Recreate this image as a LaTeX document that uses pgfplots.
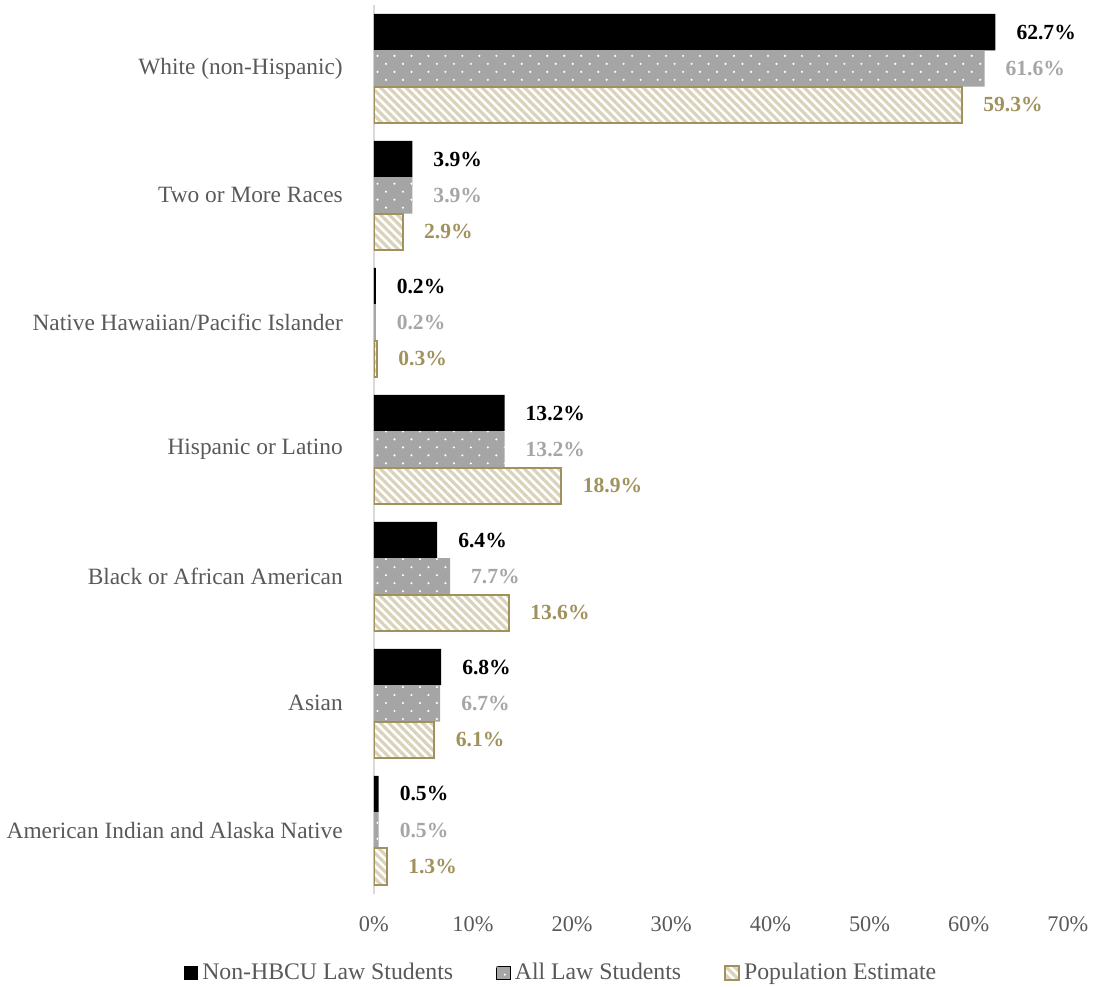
\documentclass[border=0pt]{standalone}
\usepackage{pgfplots}
\pgfplotsset{compat=1.18}
\usepackage{fontspec}
\setmainfont{Liberation Serif}
\usetikzlibrary{patterns,patterns.meta}
\definecolor{tickgray}{HTML}{595959}
\definecolor{bargray}{HTML}{A5A5A5}
\definecolor{labgray}{HTML}{A6A6A6}
\definecolor{olive}{HTML}{A0925C}
\definecolor{beige}{HTML}{DAD3BB}
\pgfdeclarepatternformonly{sparsedots}{\pgfpoint{-1pt}{-1pt}}{\pgfpoint{9.5pt}{9pt}}{\pgfpoint{8.5pt}{8pt}}{%
  \pgfpathcircle{\pgfpoint{2pt}{2pt}}{0.6pt}%
  \pgfpathcircle{\pgfpoint{6.25pt}{6pt}}{0.6pt}%
  \pgfusepath{fill}}
\begin{document}
\begin{tikzpicture}
\begin{axis}[
  scale only axis,
  width=347.5pt, height=445pt,
  xbar, bar width=18.2pt,
  xmin=0, xmax=70, ymin=-0.5, ymax=6.5,
  /pgf/number format/assume math mode=true,
  ytick={0,...,6},
  yticklabels={American Indian and Alaska Native, Asian, Black or African American, Hispanic or Latino, Native Hawaiian/Pacific Islander, Two or More Races, White (non-Hispanic)},
  xtick={0,10,...,70},
  xticklabel={\pgfmathprintnumber{\tick}\%},
  axis line style={draw=none},
  major tick length=0,
  extra x ticks={0}, extra x tick labels={},
  extra x tick style={grid=major, grid style={draw=black!15, line width=1pt}},
  tick label style={font=\rmfamily\fontsize{11.2}{13}\selectfont, text=tickgray},
  yticklabel style={font=\rmfamily\fontsize{11.7}{13}\selectfont, xshift=-12pt},
  xticklabel style={yshift=-7.75pt},
  nodes near coords={\pgfmathprintnumber[fixed,fixed zerofill,precision=1]{\pgfplotspointmeta}\%},
  nodes near coords style={font=\rmfamily\fontsize{10.8}{13}\selectfont\bfseries, anchor=west, xshift=7pt},
  legend style={at={(0.271,-0.089)}, anchor=center, draw=none, legend columns=3,
    font=\rmfamily\fontsize{11.9}{14}\selectfont, text=tickgray,
    /tikz/every even column/.append style={column sep=19.5pt},
    inner sep=0pt},
  legend image code/.code={\draw[#1] (0pt,-3.5pt) rectangle (7pt,3.5pt);},
  legend cell align=left,
]
\addplot[fill=black, draw=none, bar shift=18.2pt, nodes near coords style={text=black}]
  coordinates {(0.5,0) (6.8,1) (6.4,2) (13.2,3) (0.2,4) (3.9,5) (62.7,6)};
\addplot[fill=bargray, draw=none, bar shift=0pt, postaction={pattern=sparsedots, pattern color=white}, nodes near coords style={text=labgray}]
  coordinates {(0.5,0) (6.7,1) (7.7,2) (13.2,3) (0.2,4) (3.9,5) (61.6,6)};
\addplot[fill=white, draw=olive, line width=1pt, bar shift=-18.2pt, postaction={pattern={Lines[angle=-45,distance=3pt,line width=1.6pt]}, pattern color=beige}, nodes near coords style={text=olive}]
  coordinates {(1.3,0) (6.1,1) (13.6,2) (18.9,3) (0.3,4) (2.9,5) (59.3,6)};
\legend{Non-HBCU Law Students, All Law Students, Population Estimate}
\end{axis}
\path ([yshift=2.5pt]current axis.north);
\end{tikzpicture}
\end{document}
